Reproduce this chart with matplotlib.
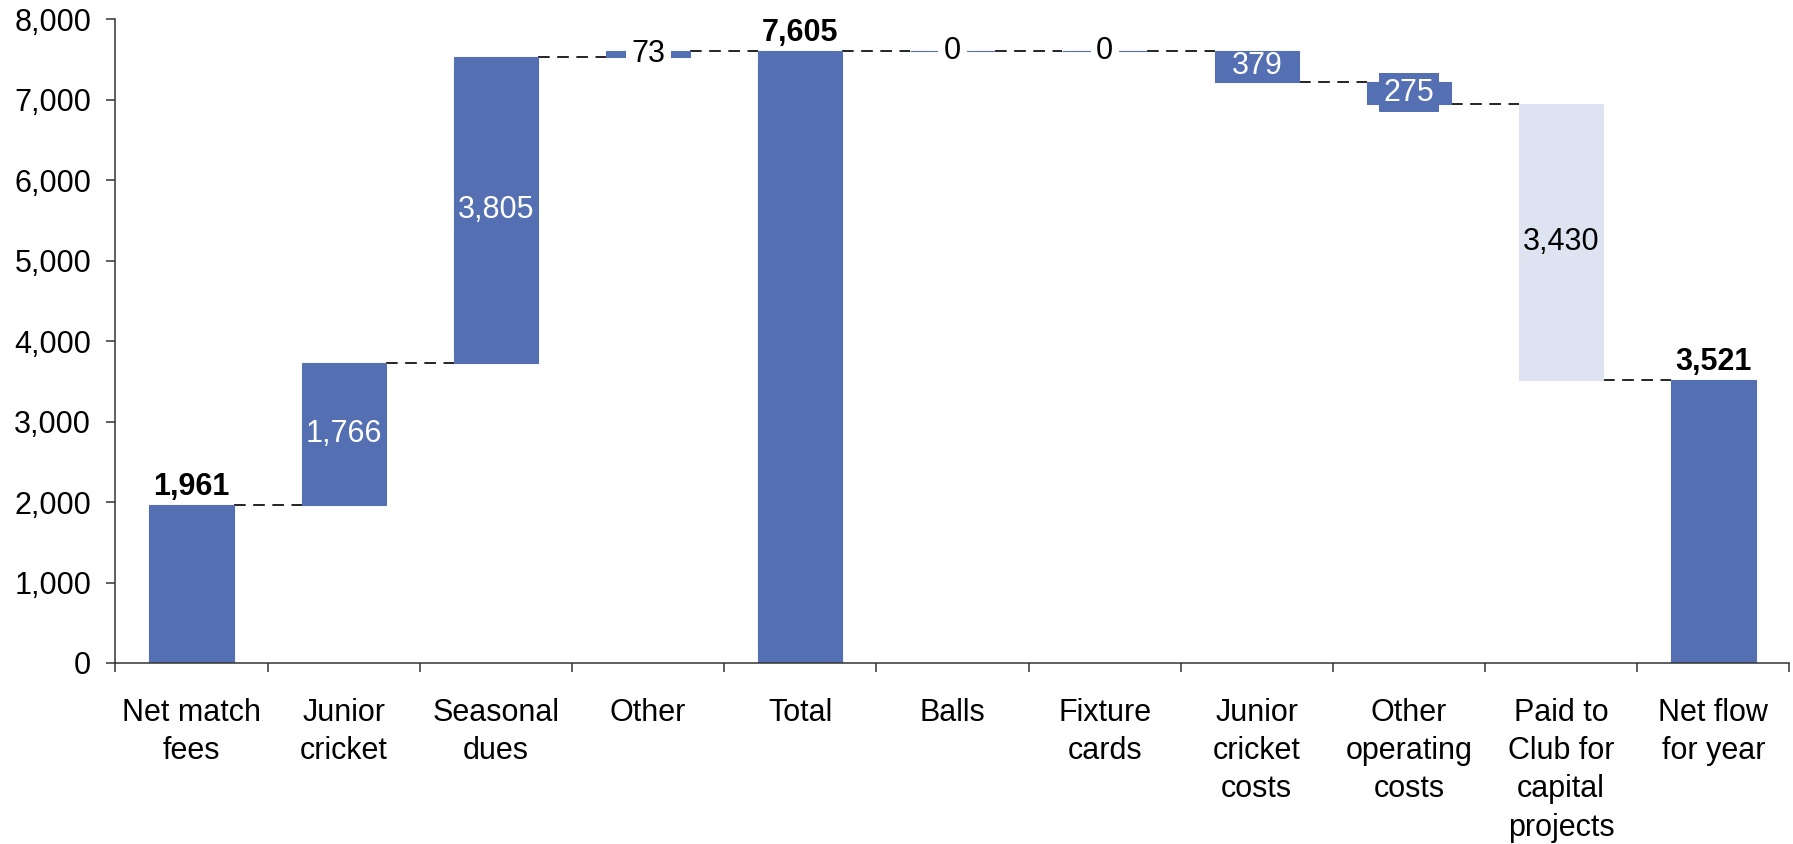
import matplotlib.pyplot as plt
import numpy as np

plt.rcParams['font.family'] = ['Liberation Sans', 'DejaVu Sans']

categories = ["Net match\nfees", "Junior\ncricket", "Seasonal\ndues", "Other", "Total",
              "Balls", "Fixture\ncards", "Junior\ncricket\ncosts", "Other\noperating\ncosts",
              "Paid to\nClub for\ncapital\nprojects", "Net flow\nfor year"]
values = [1961, 1766, 3805, 73, 7605, 0, 0, -379, -275, -3430, 3521]
is_total = [True, False, False, False, True, False, False, False, False, False, True]
y_ticks = [0, 1000, 2000, 3000, 4000, 5000, 6000, 7000, 8000]

blue = '#5470b3'
light = '#dde3f0'
fs = 22
width = 0.555

# work out where each bar sits
bottoms, heights, levels = [], [], []
running = 0
for v, tot in zip(values, is_total):
    if tot:
        bottoms.append(0)
        heights.append(v)
        running = v
    else:
        bottoms.append(running + min(v, 0))
        heights.append(abs(v))
        running += v
    levels.append(running)

colors = [blue] * len(values)
colors[9] = light

fig = plt.figure(figsize=(17.93, 8.44), dpi=100)
ax = fig.add_axes([0.0644, 0.2145, 0.9336, 0.7625])

x = np.arange(len(values))
ax.bar(x, heights, bottom=bottoms, width=width, color=colors, edgecolor=colors,
       linewidth=0.8, zorder=2)

# dashed connectors between bars
for i in range(len(values) - 1):
    ax.plot([i + width / 2, i + 1 - width / 2], [levels[i], levels[i]],
            color='black', lw=1.2, dashes=(7, 4.5), zorder=1)

# value labels
for i, (v, tot) in enumerate(zip(values, is_total)):
    txt = f"{abs(v):,}"
    if tot:
        ax.annotate(txt, (i, heights[i]), xytext=(0, 2), textcoords='offset points',
                    ha='center', va='bottom', fontsize=fs, fontweight='bold')
        continue
    mid = bottoms[i] + heights[i] / 2
    if i in (3, 5, 6):
        ax.text(i, mid, txt, ha='center', va='center', fontsize=fs, color='black', zorder=3,
                bbox=dict(boxstyle='square,pad=0.18', fc='white', ec='none'))
    elif i == 8:
        ax.text(i, mid, txt, ha='center', va='center', fontsize=fs, color='white', zorder=3,
                bbox=dict(boxstyle='square,pad=0.15', fc=blue, ec='none'))
    elif i == 9:
        ax.text(i, mid, txt, ha='center', va='center', fontsize=fs, color='black', zorder=3)
    else:
        ax.text(i, mid, txt, ha='center', va='center', fontsize=fs, color='white', zorder=3)

ax.set_xlim(-0.5, len(values) - 0.5)
ax.set_ylim(0, 8000)
ax.set_yticks(y_ticks)
ax.set_yticklabels([f"{t:,}" for t in y_ticks])
ax.set_xticks(np.arange(len(values) + 1) - 0.5)
ax.set_xticklabels([])
ax.set_xticks(x, minor=True)
ax.set_xticklabels(categories, minor=True, linespacing=1.36)

ax.tick_params(axis='y', direction='out', length=6.5, width=1.1, pad=11, labelsize=fs,
               color='#333333')
ax.tick_params(axis='x', which='major', direction='out', length=6.5, width=1.1,
               color='#333333')
ax.tick_params(axis='x', which='minor', length=0, pad=25, labelsize=fs)

for s in ('top', 'right'):
    ax.spines[s].set_visible(False)
for s in ('left', 'bottom'):
    ax.spines[s].set_color('#333333')
    ax.spines[s].set_linewidth(1.1)

fig.savefig('out.png', dpi=100)
